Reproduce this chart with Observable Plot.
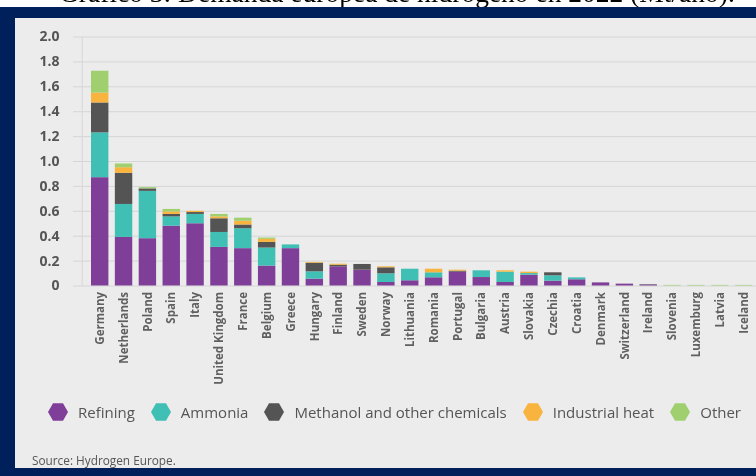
<!DOCTYPE html>
<html>
<head>
<meta charset="utf-8">
<script src="https://cdn.jsdelivr.net/npm/d3@7"></script>
<script src="https://cdn.jsdelivr.net/npm/@observablehq/plot@0.6"></script>
<style>
  html, body { margin: 0; padding: 0; width: 756px; height: 476px; overflow: hidden; background: #fff; }
  #title { position: fixed; left: 59px; top: -21.5px; font-family: "Liberation Serif", "Times New Roman", serif; font-size: 27.5px; line-height: 27px; color: #000; white-space: nowrap; }
  #frame { position: fixed; left: 0; right: -20px; top: 7px; bottom: -5px; background: #00205b; }
  #panel { position: fixed; left: 15px; right: -20px; top: 18px; bottom: 8px; background: #ececec; }
  #chart { position: fixed; left: 0; top: 0; }
  #legend { position: fixed; left: 48px; top: 402px; display: flex; align-items: center; font-family: "Open Sans", sans-serif; font-size: 15px; color: #555; white-space: nowrap; }
  #legend .item { display: flex; align-items: center; margin-right: 16px; }
  #legend svg { margin-right: 10px; }
  #source { position: fixed; left: 32px; top: 452px; font-family: "Open Sans", sans-serif; font-size: 11.8px; color: #555; }
</style>
</head>
<body>
<div id="title">Gráfico 3: Demanda europea de hidrógeno en 2022 (Mt/año).</div>
<div id="frame"></div>
<div id="panel"></div>
<div id="chart"></div>
<div id="legend"></div>
<div id="source"></div>
<script>
const countries = ["Germany","Netherlands","Poland","Spain","Italy","United Kingdom","France","Belgium","Greece","Hungary","Finland","Sweden","Norway","Lithuania","Romania","Portugal","Bulgaria","Austria","Slovakia","Czechia","Croatia","Denmark","Switzerland","Ireland","Slovenia","Luxemburg","Latvia","Iceland"];
const series = ["Refining","Ammonia","Methanol and other chemicals","Industrial heat","Other"];
const seriesColors = ["#7f3f98","#40bfb4","#545454","#f8b43e","#9fcf6e"];
const refining = [0.87,0.39,0.38,0.48,0.50,0.31,0.30,0.16,0.30,0.055,0.154,0.127,0.028,0.042,0.066,0.111,0.068,0.028,0.087,0.039,0.05,0.025,0.015,0.008,0,0,0,0];
const ammonia  = [0.36,0.265,0.38,0.075,0.075,0.12,0.16,0.145,0.03,0.059,0,0,0.07,0.093,0.04,0,0.054,0.083,0.013,0.043,0.015,0,0,0,0,0,0,0];
const methanol = [0.24,0.25,0.02,0.02,0.015,0.11,0.03,0.045,0,0.069,0.013,0.046,0.048,0,0,0.008,0,0,0,0.024,0,0,0,0.003,0,0,0,0];
const heat     = [0.08,0.045,0,0.02,0.01,0.015,0.03,0.025,0,0.006,0.008,0,0.008,0,0.029,0.008,0,0.011,0.011,0,0,0,0,0,0,0,0,0];
const other    = [0.175,0.03,0.01,0.02,0,0.02,0.025,0.01,0,0,0,0,0,0,0,0,0,0,0,0,0,0,0,0,0.005,0.005,0.005,0.005];
const yTicks = [0,0.2,0.4,0.6,0.8,1.0,1.2,1.4,1.6,1.8,2.0];
const sourceText = "Source: Hydrogen Europe.";

const valuesBySeries = [refining, ammonia, methanol, heat, other];
const data = [];
countries.forEach((c, i) => {
  series.forEach((s, j) => {
    data.push({country: c, series: s, value: valuesBySeries[j][i]});
  });
});

const chart = Plot.plot({
  width: 756,
  height: 400,
  marginLeft: 73,
  marginRight: 0,
  marginTop: 36.5,
  marginBottom: 114.5,
  style: {background: "transparent", fontFamily: "Open Sans, sans-serif", fontWeight: 700, color: "#5a5a5a"},
  x: {type: "band", domain: countries, range: [81.7, 761.6], paddingInner: 0.27, paddingOuter: 0.39, round: false},
  y: {domain: [0, 2.0]},
  color: {domain: series, range: seriesColors},
  marks: [
    Plot.ruleY(yTicks, {stroke: "#d6d6d6", strokeWidth: 1}),
    Plot.ruleX([countries[0]], {x: d => d, y1: 0, y2: 2.0, dx: -18, stroke: "#d6d6d6"}),
    Plot.barY(data, {x: "country", y: "value", fill: "series", order: series}),
    Plot.axisY({ticks: yTicks, tickSize: 0, tickPadding: 14, tickFormat: d => d === 0 ? "0" : d.toFixed(1), label: null, fontSize: 14, fontWeight: 700, color: "#555"}),
    Plot.axisX({tickSize: 0, tickPadding: 6, tickRotate: -90, label: null, fontSize: 11.5, fontWeight: 700, color: "#606060"})
  ]
});
document.getElementById("chart").appendChild(chart);

const legend = document.getElementById("legend");
series.forEach((s, j) => {
  const item = document.createElement("div");
  item.className = "item";
  item.innerHTML = `<svg width="20" height="20" viewBox="0 0 20 20"><polygon points="0,10 5,1.3 15,1.3 20,10 15,18.7 5,18.7" fill="${seriesColors[j]}"/></svg><span>${s}</span>`;
  legend.appendChild(item);
});
document.getElementById("source").textContent = sourceText;
</script>
</body>
</html>
